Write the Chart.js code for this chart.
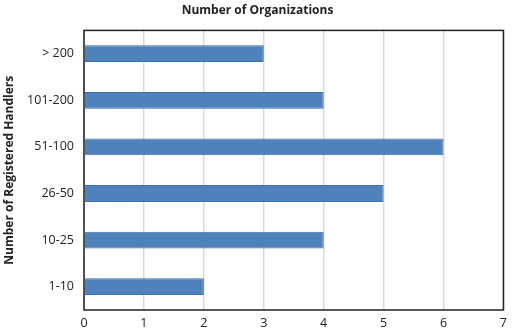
<!DOCTYPE html>
<html>
<head>
<meta charset="utf-8">
<script src="https://cdn.jsdelivr.net/npm/chart.js@4.4.0/dist/chart.umd.min.js"></script>
<style>
  html, body { margin: 0; padding: 0; background: #fff; }
  #wrap { width: 513px; height: 335px; }
</style>
</head>
<body>
<div id="wrap"><canvas id="chart"></canvas></div>
<script>
const categories = ['> 200', '101-200', '51-100', '26-50', '10-25', '1-10']
const organizations = [3, 4, 6, 5, 4, 2]
const xTicks = [0, 1, 2, 3, 4, 5, 6, 7]

// black frame round the plot area
const frame = {
    id: 'frame',
    afterDraw(chart) {
        const a = chart.chartArea
        const ctx = chart.ctx
        ctx.save()
        ctx.strokeStyle = '#222'
        ctx.lineWidth = 1.5
        ctx.strokeRect(a.left, a.top, a.right - a.left, a.bottom - a.top)
        ctx.restore()
    }
}

Chart.defaults.font.family = '"Open Sans", "Liberation Sans", sans-serif'
Chart.defaults.color = '#222'

new Chart(document.getElementById('chart'), {
    type: 'bar',
    data: {
        labels: categories,
        datasets: [{
            data: organizations,
            backgroundColor: '#4f81bd',
            borderColor: '#3f6fa8',
            borderWidth: 1,
            categoryPercentage: 0.36,
            barPercentage: 1
        }]
    },
    options: {
        indexAxis: 'y',
        responsive: true,
        maintainAspectRatio: false,
        animation: false,
        layout: { padding: { left: 2, right: 0, top: 0, bottom: 0 } },
        plugins: {
            legend: { display: false },
            tooltip: { enabled: false },
            title: {
                display: true,
                text: 'Number of Organizations',
                font: { size: 12, weight: 'bold' },
                color: '#222',
                padding: { top: 3, bottom: 13 }
            }
        },
        scales: {
            x: {
                min: 0,
                max: 7,
                afterBuildTicks: (axis) => { axis.ticks = xTicks.map(v => ({ value: v })) },
                afterFit: (axis) => { axis.height = 25 },
                grid: { color: '#d9d9d9', lineWidth: 1.5, drawTicks: false },
                border: { display: false },
                ticks: { font: { size: 12.5 }, padding: 6 }
            },
            y: {
                grid: { display: false, drawTicks: false },
                border: { display: false },
                ticks: { font: { size: 12.5 }, padding: 10 },
                afterFit: (axis) => { axis.width = 82 },
                title: {
                    display: true,
                    text: 'Number of Registered Handlers',
                    font: { size: 12, weight: 'bold' },
                    padding: 0
                }
            }
        }
    },
    plugins: [frame]
})
</script>
</body>
</html>
